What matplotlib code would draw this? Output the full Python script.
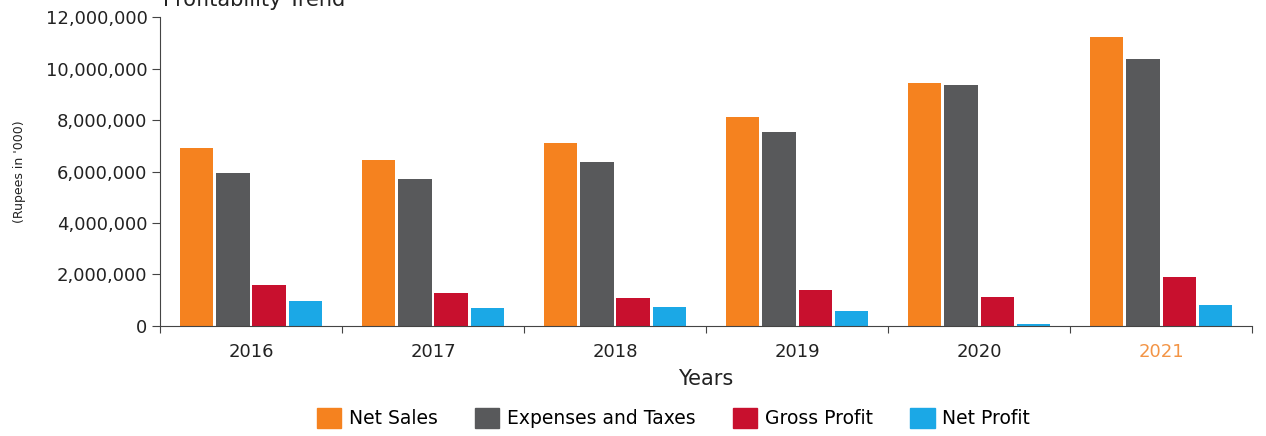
import matplotlib
matplotlib.use("Agg")
import matplotlib.pyplot as plt
from matplotlib.patches import Patch
from matplotlib.ticker import FuncFormatter, FixedLocator
import numpy as np

plt.rcParams['font.family'] = ['DejaVu Sans']

years = ["2016", "2017", "2018", "2019", "2020", "2021"]
net_sales = [6900000, 6430000, 7090000, 8100000, 9430000, 11240000]
expenses_taxes = [5950000, 5700000, 6360000, 7520000, 9340000, 10380000]
gross_profit = [1610000, 1280000, 1080000, 1400000, 1140000, 1910000]
net_profit = [970000, 700000, 740000, 580000, 80000, 810000]

series_names = ["Net Sales", "Expenses and Taxes", "Gross Profit", "Net Profit"]
colors = ["#F5821F", "#58595B", "#C8102E", "#1BA8E6"]

fig = plt.figure(figsize=(12.66, 4.36), dpi=100)
ax = fig.add_axes([0.1264, 0.2523, 0.8626, 0.7087])

x = np.arange(len(years))
width = 0.2
all_series = [net_sales, expenses_taxes, gross_profit, net_profit]
for i, (vals, col) in enumerate(zip(all_series, colors)):
    ax.bar(x + (i - 1.5) * width, vals, width * 0.92, color=col, zorder=2)

ax.set_xlim(-0.5, len(years) - 0.5)
ax.set_ylim(0, 12000000)
ax.set_yticks(np.arange(0, 12000001, 2000000))
ax.yaxis.set_major_formatter(FuncFormatter(lambda v, p: f"{int(v):,}"))

ax.set_xticks(x)
ax.set_xticklabels(years)
ax.xaxis.set_minor_locator(FixedLocator(np.arange(-0.5, len(years), 1.0)))
ax.tick_params(axis='x', which='major', length=0, pad=12, labelsize=13, colors='#222222')
ax.tick_params(axis='x', which='minor', length=5, width=0.8, color='#444444')
ax.tick_params(axis='y', length=6, width=0.8, color='#444444', labelsize=13,
               labelcolor='#222222', pad=3)
ax.get_xticklabels()[-1].set_color("#F39445")

for side in ["top", "right"]:
    ax.spines[side].set_visible(False)
for side in ["left", "bottom"]:
    ax.spines[side].set_color("#444444")
    ax.spines[side].set_linewidth(0.8)

ax.set_xlabel("Years", fontsize=15, color='#222222', labelpad=6)
ax.set_ylabel("(Rupees in '000)", fontsize=9, color='#222222')
ax.yaxis.set_label_coords(-0.123, 0.5)

fig.text(0.129, 0.986, "Profitability Trend", fontsize=15, color='#222222',
         va='baseline', ha='left')

handles = [Patch(facecolor=c, edgecolor=c) for c in colors]
fig.legend(handles, series_names, loc='center', bbox_to_anchor=(0.532, 0.041),
           ncol=4, frameon=False, fontsize=13.5, handlelength=1.3, handleheight=1.3,
           handletextpad=0.4, columnspacing=2.0, borderpad=0.2)

fig.savefig("out.png", dpi=100)
